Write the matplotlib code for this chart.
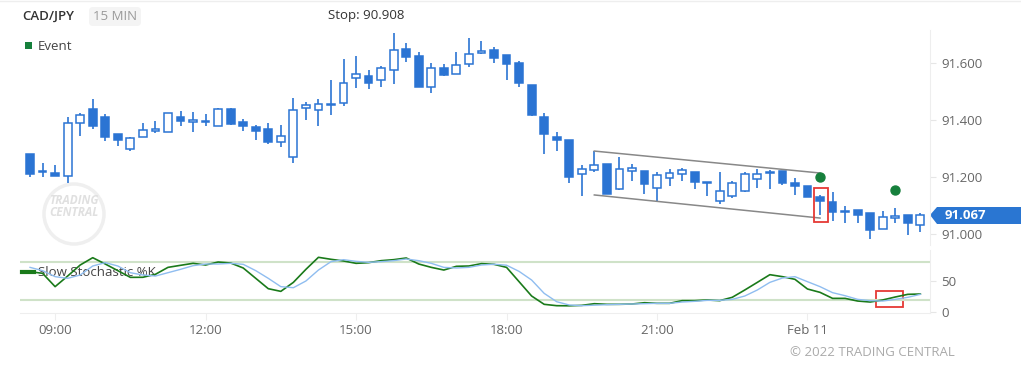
import matplotlib.pyplot as plt
import matplotlib.patches as mpatches
import numpy as np
import pandas as pd

plt.rcParams['font.family'] = ['Open Sans', 'DejaVu Sans']

# 15 min candles, 2022-02-10 08:30 .. 2022-02-11 02:15
times = pd.date_range('2022-02-10 08:30', periods=72, freq='15min')

opens = [91.281, 91.219, 91.214, 91.205, 91.388, 91.440, 91.409, 91.350, 91.298, 91.341,
         91.361, 91.358, 91.409, 91.392, 91.395, 91.380, 91.440, 91.393, 91.376, 91.367,
         91.322, 91.270, 91.441, 91.434, 91.454, 91.461, 91.547, 91.554, 91.539, 91.576,
         91.650, 91.626, 91.517, 91.584, 91.561, 91.595, 91.634, 91.645, 91.627, 91.599,
         91.524, 91.411, 91.341, 91.330, 91.212, 91.225, 91.246, 91.157, 91.222, 91.221,
         91.160, 91.196, 91.209, 91.216, 91.184, 91.117, 91.134, 91.152, 91.192, 91.218,
         91.221, 91.179, 91.168, 91.131, 91.113, 91.080, 91.083, 91.073, 91.018, 91.055,
         91.066, 91.031]
highs = [91.281, 91.248, 91.243, 91.409, 91.425, 91.474, 91.420, 91.351, 91.339, 91.391,
         91.396, 91.425, 91.431, 91.428, 91.421, 91.441, 91.441, 91.404, 91.384, 91.388,
         91.381, 91.476, 91.462, 91.474, 91.540, 91.613, 91.625, 91.575, 91.589, 91.704,
         91.669, 91.638, 91.601, 91.595, 91.638, 91.687, 91.676, 91.656, 91.628, 91.607,
         91.524, 91.424, 91.357, 91.330, 91.242, 91.291, 91.246, 91.269, 91.246, 91.221,
         91.216, 91.227, 91.233, 91.216, 91.184, 91.216, 91.187, 91.219, 91.227, 91.225,
         91.221, 91.195, 91.168, 91.138, 91.148, 91.098, 91.083, 91.073, 91.080, 91.090,
         91.066, 91.073]
lows = [91.201, 91.199, 91.202, 91.178, 91.345, 91.369, 91.325, 91.309, 91.291, 91.339,
        91.355, 91.357, 91.379, 91.359, 91.379, 91.379, 91.381, 91.360, 91.329, 91.317,
        91.306, 91.250, 91.399, 91.379, 91.416, 91.449, 91.513, 91.510, 91.517, 91.526,
        91.604, 91.515, 91.494, 91.553, 91.560, 91.586, 91.631, 91.599, 91.539, 91.515,
        91.413, 91.281, 91.292, 91.180, 91.135, 91.219, 91.139, 91.153, 91.187, 91.139,
        91.117, 91.168, 91.187, 91.158, 91.133, 91.104, 91.125, 91.147, 91.160, 91.158,
        91.173, 91.138, 91.129, 91.067, 91.047, 91.038, 91.038, 90.984, 91.018, 91.038,
        90.998, 91.007]
closes = [91.211, 91.221, 91.204, 91.391, 91.418, 91.380, 91.341, 91.329, 91.337, 91.366,
          91.369, 91.424, 91.395, 91.399, 91.393, 91.440, 91.386, 91.379, 91.361, 91.322,
          91.343, 91.436, 91.452, 91.455, 91.455, 91.529, 91.560, 91.530, 91.581, 91.645,
          91.622, 91.515, 91.581, 91.559, 91.592, 91.631, 91.641, 91.618, 91.595, 91.531,
          91.416, 91.352, 91.330, 91.201, 91.227, 91.241, 91.139, 91.228, 91.231, 91.174,
          91.207, 91.213, 91.224, 91.184, 91.178, 91.152, 91.179, 91.211, 91.209, 91.213,
          91.178, 91.169, 91.131, 91.116, 91.076, 91.076, 91.067, 91.014, 91.061, 91.063,
          91.040, 91.067]

slow_k = [65, 62.4, 40.9, 58, 75.8, 87.6, 77.4, 66.7, 55.9, 56,
          60.8, 72, 75.3, 78.5, 75.8, 80.6, 79, 71, 54.3, 37.6,
          33.3, 47.8, 68.8, 88.2, 85, 82.3, 78.5, 79.6, 82.8, 84.4,
          87.1, 77.4, 72, 67.7, 73.7, 74.2, 78, 76.9, 72, 48.9,
          25.8, 12.4, 10.2, 10, 10.7, 13.4, 12.4, 12.4, 12.9, 15,
          14, 14, 18.3, 18.3, 19.4, 18.3, 23.7, 35.5, 47.8, 60.2,
          57, 52.7, 37.1, 31.7, 22, 22, 17.7, 16.1, 19.4, 24.2,
          28.5, 29]
slow_d = [72, 66.7, 57, 54.3, 59.7, 74.2, 79.6, 74.2, 63.4, 59.7,
          58, 63.4, 68.8, 74.7, 77.4, 77.4, 78.5, 76.9, 66.7, 54.3,
          40.9, 39.2, 50, 67.7, 81.2, 84.4, 81.7, 80.1, 81.2, 82.8,
          85.5, 82.8, 78.5, 72, 71, 72, 75.8, 77, 75.5, 65.5,
          51.6, 30.1, 16.6, 11.3, 10.2, 11, 11.8, 12.4, 12.9, 13.4,
          14, 14, 16.1, 17.2, 18.8, 18.8, 20.4, 25.8, 35.5, 47.8,
          54.8, 57, 48.9, 40.9, 31.2, 26.3, 20.4, 18.3, 17.7, 20.4,
          23.7, 28.5]

event_idx = [63, 69]
event_price = [91.201, 91.154]
channel_upper = ([45, 63], [91.291, 91.214])
channel_lower = ([45, 63], [91.137, 91.056])
last_price = 91.067
stop_text = 'Stop: 90.908'
price_ticks = [91.0, 91.2, 91.4, 91.6]

W, H = 1021, 366
BLUE = '#2b74d3'
GREEN = '#1a7a1a'
GREY = '#666666'


def rect(x0, y0, x1, y1):
    return [x0 / W, 1 - y1 / H, (x1 - x0) / W, (y1 - y0) / H]


fig = plt.figure(figsize=(W / 100, H / 100), dpi=100)

# background overlay in pixel coords
bg = fig.add_axes([0, 0, 1, 1], zorder=0)
bg.set_xlim(0, W)
bg.set_ylim(H, 0)
bg.axis('off')
bg.plot([0, W], [1, 1], color='#eeeeee', lw=1)
bg.text(22, 16, 'CAD/JPY', fontsize=9.5, color='#333333', va='center', fontweight='semibold')
bg.add_patch(mpatches.FancyBboxPatch((89, 7), 52, 19, boxstyle='round,pad=0,rounding_size=4',
                                     fc='#f4f4f4', ec='none'))
bg.text(115, 16.5, '15 MIN', fontsize=9.5, color='#9a9a9a', va='center', ha='center')
bg.text(328, 16, stop_text, fontsize=9.5, color='#333333', va='center')
bg.add_patch(mpatches.Rectangle((25, 42), 7, 7, fc='#16803c', ec='none'))
bg.text(38, 46, 'Event', fontsize=9.5, color='#444444', va='center')

# watermark
bg.add_patch(mpatches.Circle((74, 214), 30, fc='none', ec='#efefef', lw=2.5))
bg.text(74, 200, 'TRADING', fontsize=8.5, color='#e0e0e0', ha='center', va='center',
        fontweight='bold', style='italic')
bg.text(74, 213, 'CENTRAL', fontsize=8.5, color='#e0e0e0', ha='center', va='center',
        fontweight='bold', style='italic')

bg.text(790, 352, '© 2022 TRADING CENTRAL', fontsize=9.5, color='#aaaaaa', va='center')

x = np.arange(len(times))

# price panel
ax = fig.add_axes(rect(20, 30, 930, 245), zorder=2)
ax.set_facecolor('none')
ax.vlines(x, lows, highs, color=BLUE, lw=1.2, zorder=2)
for i in range(len(x)):
    o, c = opens[i], closes[i]
    bottom, top = min(o, c), max(o, c)
    face = BLUE if c < o else 'white'
    ax.bar(x[i], max(top - bottom, 0.0015), bottom=bottom, width=0.62, color=face,
           edgecolor=BLUE, lw=1.1, zorder=3)
ax.plot(*channel_upper, color='#888888', lw=1.1, zorder=4)
ax.plot(*channel_lower, color='#888888', lw=1.1, zorder=4)
ax.scatter(event_idx, event_price, s=42, color='#16803c', zorder=5)
ax.add_patch(mpatches.Rectangle((62.55, 91.043), 1.05, 0.117, fc='none', ec='#e53935',
                                lw=1.3, zorder=6))
ax.set_xlim(-0.8, 71.77)
ax.set_ylim(91.0 - 11 / 285, 91.0 + 204 / 285)
ax.yaxis.tick_right()
ax.set_yticks(price_ticks)
ax.set_yticklabels([f'{p:.3f}' for p in price_ticks])
ax.tick_params(axis='y', length=4, pad=4, color='#e6e6e6', labelcolor=GREY, labelsize=9.5)
ax.set_xticks([])
for s in ['top', 'left', 'bottom']:
    ax.spines[s].set_visible(False)
ax.spines['right'].set_color('#eeeeee')

# last price label
bg.add_patch(mpatches.Polygon([(930, 215), (937, 207), (1021, 207), (1021, 224), (937, 224)],
                              closed=True, fc='#2a76d2', ec='none'))
bg.text(945, 215.5, f'{last_price:.3f}', fontsize=9.5, color='white', fontweight='bold',
        va='center')

# stochastic panel
ax2 = fig.add_axes(rect(20, 250, 930, 313), zorder=2)
ax2.set_facecolor('none')
ax2.axhline(80, color='#cfe2c8', lw=1.5)
ax2.axhline(20, color='#cfe2c8', lw=1.5)
ax2.plot(x, slow_k, color=GREEN, lw=1.2)
ax2.plot(x, slow_d, color='#8fbdf0', lw=1.0)
ax2.add_patch(mpatches.Rectangle((67.5, 7.6), 2.1, 26.8, fc='none', ec='#e53935', lw=1.3))
ax2.set_xlim(-0.8, 71.77)
ax2.set_ylim(-1.6, 100)
ax2.yaxis.tick_right()
ax2.set_yticks([0, 50])
ax2.tick_params(axis='y', length=4, pad=4, color='#e6e6e6', labelcolor=GREY, labelsize=9.5)
tick_pos = [i for i, t in enumerate(times) if t.minute == 0 and t.hour % 3 == 0]
tick_lab = [times[i].strftime('%b %d').replace(' 0', ' ') if times[i].hour == 0
            else times[i].strftime('%H:%M') for i in tick_pos]
ax2.set_xticks(tick_pos)
ax2.set_xticklabels(tick_lab)
ax2.tick_params(axis='x', length=5, pad=3, color='#eeeeee', labelcolor=GREY, labelsize=9.5)
for s in ['top', 'left']:
    ax2.spines[s].set_visible(False)
ax2.spines['right'].set_color('#eeeeee')
ax2.spines['bottom'].set_color('#eeeeee')

bg.plot([22, 34], [272, 272], color=GREEN, lw=3)
bg.text(38, 273, 'Slow Stochastic %K', fontsize=9.5, color='#444444', va='center', zorder=10)

fig.savefig('out.png', dpi=100)
